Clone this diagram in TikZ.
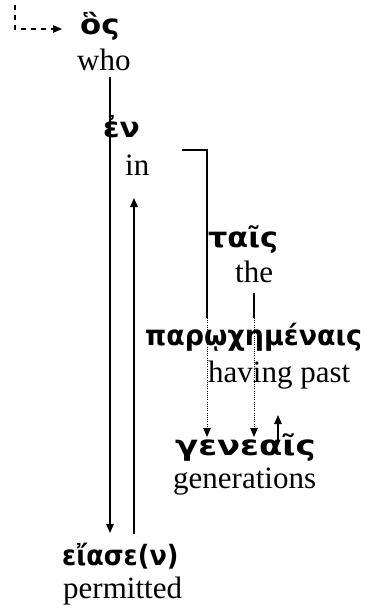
\documentclass[tikz,border=0pt]{standalone}
\usepackage{fontspec}
\setmainfont{Liberation Serif}
\newfontfamily\grk{DejaVu Sans}
\usetikzlibrary{arrows.meta}
\newcommand{\gw}[2]{\scalebox{#1}[1]{#2}}
\begin{document}
\begin{tikzpicture}[x=1pt,y=-1pt,
  eng/.style={anchor=base west,inner sep=0pt,font=\fontsize{31}{31}\selectfont},
  gr/.style={anchor=base west,inner sep=0pt,font=\grk\bfseries\fontsize{28}{28}\selectfont},
  ln/.style={line width=1.3pt},
  tip/.style={-{Triangle[length=9pt,width=7.5pt]}},
  dots/.style={line width=1pt,dash pattern=on 1pt off 1.2pt}]
\useasboundingbox (0,0) rectangle (374,613);
% words
\node[gr]  (os)   at (80,34)  {\gw{1.1}{ὃς}};
\node[eng] (who)  at (77,70)  {who};
\node[gr]  (en)   at (103,137) {\gw{1.06}{ἐν}};
\node[eng] (in)   at (125,175) {in};
\node[gr]  (tais) at (208,247) {\gw{1.08}{ταῖς}};
\node[eng] (the)  at (235,282) {the};
\node[gr]  (parw) at (145,345) {\gw{0.96}{παρῳχημέναις}};
\node[eng] (hav)  at (208,382) {having past};
\node[gr]  (gen)  at (175,455) {\gw{1.21}{γενεαῖς}};
\node[eng] (gens) at (173,488) {generations};
\node[gr]  (eia)  at (62,565)  {\gw{0.91}{εἴασε(ν)}};
\node[eng] (perm) at (63,598)  {permitted};
% connector coordinates
\coordinate (d0) at (15,5);
\coordinate (d1) at (15,29);
\coordinate (d2) at (62,29);
\coordinate (a0) at (110,77);
\coordinate (a1) at (110,533);
\coordinate (b0) at (134,534);
\coordinate (b1) at (134,198);
\coordinate (c0) at (182,150);
\coordinate (c1) at (207,150);
\coordinate (c2) at (207,318);
\coordinate (c3) at (207,437);
\coordinate (e0) at (254,293);
\coordinate (e1) at (254,318);
\coordinate (e2) at (254,437);
\coordinate (f0) at (278,443);
\coordinate (f1) at (278,415);
% connectors
\draw[line width=1.1pt,tip,dash pattern=on 5pt off 5pt] (d0) -- (d1) -- (d2);
\draw[ln,tip] (a0) -- (a1);
\draw[ln,tip] (b0) -- (b1);
\draw[ln] (c0) -- (c1) -- (c2);
\draw[dots,tip] (c2) -- (c3);
\draw[ln] (e0) -- (e1);
\draw[dots,tip] (e1) -- (e2);
\draw[ln,tip] (f0) -- (f1);
\end{tikzpicture}
\end{document}
